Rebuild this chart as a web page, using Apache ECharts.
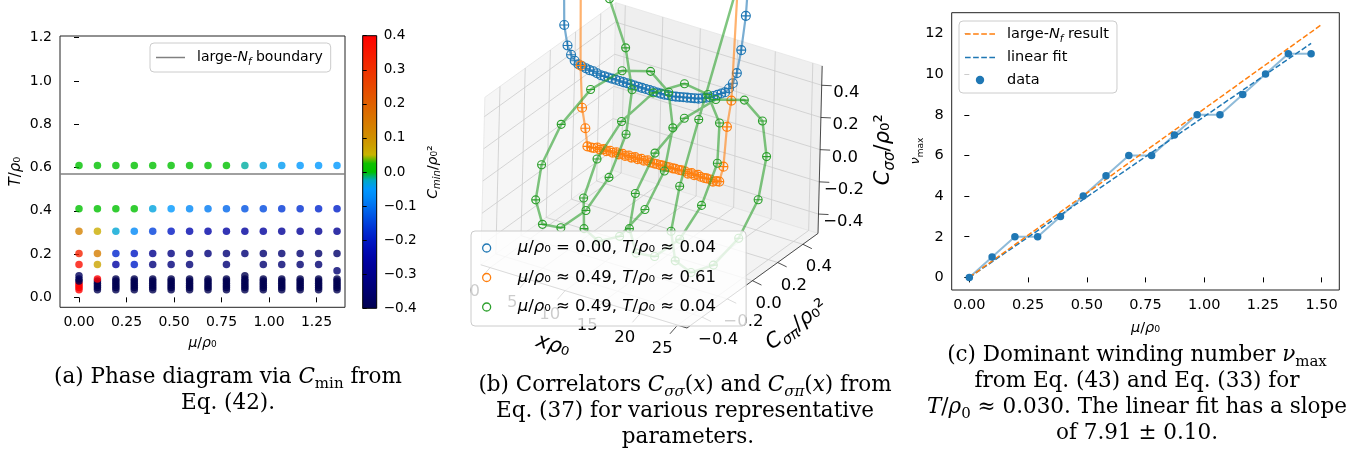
<!DOCTYPE html>
<html>
<head>
<meta charset="utf-8">
<title>Phase diagram, correlators and winding number</title>
<script src="https://cdn.jsdelivr.net/npm/echarts@6.0.0/dist/echarts.min.js"></script>
<style>
  html, body { margin: 0; padding: 0; background: #fff; }
  #chart { width: 1349px; height: 453px; }
</style>
</head>
<body>
<div id="chart"></div>
<script>
// ---------- (a) phase diagram ----------
const muGrid = [0, 0.097, 0.194, 0.291, 0.388, 0.485, 0.582, 0.679, 0.776, 0.873, 0.970, 1.067, 1.164, 1.261, 1.358]
const rowTemps = [0.61, 0.41, 0.305, 0.203, 0.152]
const cAtT061 = [0, 0, 0, 0, 0, 0, 0, 0, 0, -0.02, -0.035, -0.045, -0.05, -0.05, -0.05]
const cAtT041 = [0, 0, 0, 0, -0.035, -0.05, -0.075, -0.09, -0.11, -0.13, -0.14, -0.16, -0.17, -0.18, -0.19]
const cAtT030 = [0.13, 0.06, -0.03, -0.075, -0.15, -0.2, -0.24, -0.25, -0.26, -0.27, -0.27, -0.28, -0.28, -0.29, -0.29]
const cAtT020 = [0.33, 0.14, -0.18, -0.2, -0.3, -0.32, -0.33, -0.33, -0.34, -0.34, -0.35, -0.35, -0.35, -0.36, -0.36]
const cAtT015 = [0.37, 0.07, -0.26, -0.19, -0.33, -0.33, -0.34, null, -0.34, null, -0.35, -0.35, -0.35, -0.35, null]
const lowTemps = [0.035, 0.045, 0.055, 0.065, 0.075, 0.085]
const cLowCol0 = [0.4, 0.4, 0.4, 0.4, -0.4, -0.4]
const cLowCol1 = [-0.4, -0.4, -0.4, -0.4, -0.4, 0.4]
const cLowRest = [-0.4, -0.4, -0.4, -0.4, -0.4, -0.4]
const extraMu = [0, 0.873, 1.358]
const extraT = [0.10, 0.10, 0.123]
const extraC = [-0.38, -0.4, -0.35]
const boundaryT = 0.567
const ticksMuA = [0, 0.25, 0.5, 0.75, 1.0, 1.25]
const ticksTA = [0, 0.2, 0.4, 0.6, 0.8, 1.0, 1.2]

// ---------- (b) correlators ----------
const xPos = [0, 0.5, 1, 1.5, 2, 2.5, 3, 3.5, 4, 4.5, 5, 5.5, 6, 6.5, 7, 7.5, 8, 8.5, 9, 9.5, 10, 10.5, 11, 11.5, 12, 12.5,
  13, 13.5, 14, 14.5, 15, 15.5, 16, 16.5, 17, 17.5, 18, 18.5, 19, 19.5, 20, 20.5, 21, 21.5, 22, 22.5, 23, 23.5, 24, 24.5, 25]
const blueSS = [1.50, 0.70, 0.58, 0.53, 0.50, 0.485, 0.48, 0.475, 0.47, 0.47, 0.465,
  0.46, 0.46, 0.46, 0.46, 0.46, 0.46, 0.46, 0.46, 0.46, 0.46, 0.46, 0.46, 0.46, 0.46, 0.46, 0.46, 0.46, 0.46,
  0.465, 0.465, 0.47, 0.475, 0.48, 0.485, 0.49, 0.495, 0.50, 0.51, 0.52, 0.53, 0.545, 0.56, 0.575, 0.59, 0.62, 0.66, 0.73, 0.88, 1.10, 1.60]
const blueSP = [0, 0, 0, 0, 0, 0, 0, 0, 0, 0, 0, 0, 0, 0, 0, 0, 0, 0, 0, 0, 0, 0, 0, 0, 0, 0,
  0, 0, 0, 0, 0, 0, 0, 0, 0, 0, 0, 0, 0, 0, 0, 0, 0, 0, 0, 0, 0, 0, 0, 0, 0]
const orangeSS = [1.40, 0.37, 0.12, 0.00, -0.10, -0.10, -0.09, -0.08, -0.08, -0.07, -0.07, -0.06, -0.06, -0.05, -0.05, -0.04, -0.04,
  -0.03, -0.03, -0.02, -0.02, -0.01, -0.01, 0.00, 0.00, 0.00, 0.01, 0.01, 0.02, 0.02, 0.03, 0.03, 0.04, 0.04, 0.05, 0.05, 0.05,
  0.06, 0.06, 0.07, 0.07, 0.07, 0.08, 0.08, 0.08, 0.09, 0.10, 0.20, 0.46, 0.63, 1.40]
const orangeSP = [0.14, 0.14, 0.13, 0.13, 0.12, 0.12, 0.11, 0.11, 0.10, 0.10, 0.09, 0.09, 0.08, 0.08, 0.07, 0.07, 0.06, 0.06,
  0.05, 0.05, 0.04, 0.04, 0.03, 0.03, 0.02, 0.02, 0.01, 0.01, 0.00, 0.00, -0.01, -0.01, -0.02, -0.02, -0.03, -0.03, -0.04, -0.04,
  -0.05, -0.05, -0.06, -0.06, -0.07, -0.07, -0.08, -0.08, -0.09, -0.09, -0.10, -0.10, -0.10]
const greenSS = [1.60, 0.66, 0.30, 0.03, -0.20, -0.37, -0.45, -0.42, -0.29, -0.08, 0.14, 0.33, 0.44, 0.44, 0.33, 0.14, -0.08,
  -0.29, -0.42, -0.45, -0.36, -0.19, 0.03, 0.24, 0.39, 0.45, 0.39, 0.24, 0.03, -0.19, -0.36, -0.45, -0.42, -0.29, -0.08, 0.14,
  0.33, 0.44, 0.44, 0.33, 0.14, -0.08, -0.29, -0.42, -0.45, -0.37, -0.20, 0.03, 0.30, 0.66, 1.60]
const greenSP = [0, 0.36, 0.47, 0.50, 0.43, 0.27, 0.06, -0.17, -0.35, -0.44, -0.43, -0.31, -0.11, 0.11, 0.31, 0.43, 0.44,
  0.35, 0.17, -0.06, -0.26, -0.41, -0.45, -0.38, -0.22, 0, 0.22, 0.38, 0.45, 0.41, 0.26, 0.06, -0.17, -0.35, -0.44, -0.43,
  -0.31, -0.11, 0.11, 0.31, 0.43, 0.44, 0.35, 0.17, -0.06, -0.27, -0.43, -0.50, -0.47, -0.36, 0]
const xTicks3d = [0, 5, 10, 15, 20, 25]
const sTicks3d = [-0.4, -0.2, 0, 0.2, 0.4]
const cTicks3d = [-0.4, -0.2, 0, 0.2, 0.4]
const boxX = [-1.25, 26.25]
const boxS = [-0.52, 0.52]
const boxC = [-0.52, 0.52]

// ---------- (c) winding number ----------
const muC = [0, 0.097, 0.194, 0.291, 0.388, 0.485, 0.582, 0.679, 0.776, 0.873, 0.970, 1.067, 1.164, 1.261, 1.358, 1.455]
const nuMax = [0, 1, 2, 2, 3, 4, 5, 6, 6, 7, 8, 8, 9, 10, 11, 11]
const largeNMu = [0, 1.5]
const largeNNu = [0, 12.44]
const fitMu = [0, 1.455]
const fitNu = [0, 11.51]
const ticksMuC = [0, 0.25, 0.5, 0.75, 1.0, 1.25, 1.5]
const ticksNuC = [0, 2, 4, 6, 8, 10, 12]

// ---------- styles ----------
const SANS = 'DejaVu Sans'
const SERIF = 'DejaVu Serif'
const BLUE = '#1f77b4', ORANGE = '#ff7f0e', GREEN = '#2ca02c'
const cmapColors = ['#000050', '#000060', '#000070', '#00007e', '#00008c', '#00009a', '#0004a8', '#000cb6', '#0018c4',
  '#002ad0', '#0040dc', '#0058e6', '#0070f0', '#0088f8', '#0098ff', '#00a8c8', '#00c000', '#10c000', '#c8b400',
  '#cca000', '#d09000', '#d48400', '#d87800', '#dc6c00', '#e06000', '#e45400', '#e84800', '#ec3c00', '#f03000',
  '#f42400', '#f81800', '#fc0c00', '#ff0000']
const OPEN_CIRCLE = 'path://M0,0M20,20M2,10A8,8,0,1,1,18,10A8,8,0,1,1,2,10Z'
const DOT = 'path://M0,0M20,20M4,10A6,6,0,1,1,16,10A6,6,0,1,1,4,10Z'
const SOLID_LINE = 'path://M0,0H29V1.5H0Z'
const DASH_LINE = 'path://M0,0H5.5V1.5H0ZM7.9,0H13.4V1.5H7.9ZM15.8,0H21.3V1.5H15.8ZM23.7,0H29.2V1.5H23.7Z'
const CIRCLE_PLUS = 'path://M1,10A9,9,0,1,1,19,10A9,9,0,1,1,1,10ZM1,10L19,10M10,1L10,19'
const CIRCLE_MINUS = 'path://M1,10A9,9,0,1,1,19,10A9,9,0,1,1,1,10ZM1,10L19,10'

function mathRich(size, family) {
  const L = Math.round(size * 1.35)
  const small = Math.round(size * 0.7)
  const base = { fontSize: size, fontFamily: family, color: '#000', lineHeight: L }
  return {
    i: Object.assign({}, base, { fontStyle: 'italic' }),
    sub: { fontSize: small, fontFamily: family, color: '#000', lineHeight: small, verticalAlign: 'bottom' },
    subi: { fontSize: small, fontFamily: family, fontStyle: 'italic', color: '#000', lineHeight: small, verticalAlign: 'bottom' },
    sup: { fontSize: small, fontFamily: family, color: '#000', lineHeight: small, verticalAlign: 'top' }
  }
}
const fmt1 = v => (v < 0 ? '\u2212' : '') + Math.abs(v).toFixed(1)

// simple fixed view of the 3d box, maps (x, C_sigma_pi, C_sigma_sigma) onto the panel plane
function project(x, s, c) {
  return [557.7 + 7.5 * x + 126 * s + 4 * c, 136.6 + 2.3 * x - 91 * s - 161 * c]
}

// ---------- series data ----------
const phaseData = []
;[cAtT061, cAtT041, cAtT030, cAtT020, cAtT015].forEach((row, r) => {
  row.forEach((c, i) => { if (c !== null) phaseData.push([muGrid[i], rowTemps[r], c]) })
})
muGrid.forEach((mu, i) => {
  const col = i === 0 ? cLowCol0 : (i === 1 ? cLowCol1 : cLowRest)
  lowTemps.forEach((t, j) => phaseData.push([mu, t, col[j]]))
})
extraMu.forEach((mu, i) => phaseData.push([mu, extraT[i], extraC[i]]))

const curve = (ss, sp) => xPos.map((x, k) => project(x, sp[k], ss[k]))
const zip = (a, b) => a.map((v, i) => [v, b[i]])

const NAME_BLUE = 'mu0.00_T0.04'
const NAME_ORANGE = 'mu0.49_T0.61'
const NAME_GREEN = 'mu0.49_T0.04'
const legendLabels = {
  [NAME_BLUE]: '{i|μ}/{i|ρ}₀ = 0.00, {i|T}/{i|ρ}₀ ≈ 0.04',
  [NAME_ORANGE]: '{i|μ}/{i|ρ}₀ ≈ 0.49, {i|T}/{i|ρ}₀ ≈ 0.61',
  [NAME_GREEN]: '{i|μ}/{i|ρ}₀ ≈ 0.49, {i|T}/{i|ρ}₀ ≈ 0.04',
  'boundary': 'large-{i|N}{subi|f} boundary',
  'large-N': 'large-{i|N}{subi|f} result',
  'linear fit': 'linear fit',
  'data': 'data'
}

const rich21 = mathRich(21, SANS)

function renderBox(params, api) {
  const P = (x, s, c) => api.coord(project(x, s, c))
  const X0 = boxX[0], X1 = boxX[1], S0 = boxS[0], S1 = boxS[1], C0 = boxC[0], C1 = boxC[1]
  const kids = []
  const poly = (pts, fill) => kids.push({ type: 'polygon', shape: { points: pts }, style: { fill: fill, stroke: '#e4e4e4', lineWidth: 0.8 } })
  const seg = (a, b, stroke, w) => kids.push({ type: 'line', shape: { x1: a[0], y1: a[1], x2: b[0], y2: b[1] }, style: { stroke: stroke, lineWidth: w } })
  const label = (p, text, size, rot, rich) => kids.push({
    type: 'text', x: p[0], y: p[1], rotation: rot || 0,
    style: { text: text, fill: '#000', fontSize: size, fontFamily: SANS, lineHeight: Math.round(size * 1.35),
      align: 'center', verticalAlign: 'middle', textAlign: 'center', textVerticalAlign: 'middle', rich: rich }
  })
  poly([P(X0, S0, C0), P(X0, S1, C0), P(X0, S1, C1), P(X0, S0, C1)], '#f6f6f6')
  poly([P(X0, S1, C0), P(X1, S1, C0), P(X1, S1, C1), P(X0, S1, C1)], '#efefef')
  poly([P(X0, S0, C0), P(X1, S0, C0), P(X1, S1, C0), P(X0, S1, C0)], '#f3f3f3')
  const g = '#cbcbcb'
  cTicks3d.forEach(c => { seg(P(X0, S0, c), P(X0, S1, c), g, 0.8); seg(P(X0, S1, c), P(X1, S1, c), g, 0.8) })
  sTicks3d.forEach(s => { seg(P(X0, s, C0), P(X0, s, C1), g, 0.8); seg(P(X0, s, C0), P(X1, s, C0), g, 0.8) })
  xTicks3d.forEach(x => { seg(P(x, S1, C0), P(x, S1, C1), g, 0.8); seg(P(x, S0, C0), P(x, S1, C0), g, 0.8) })
  seg(P(X0, S0, C0), P(X1, S0, C0), '#222', 0.8)
  seg(P(X1, S0, C0), P(X1, S1, C0), '#222', 0.8)
  seg(P(X1, S1, C0), P(X1, S1, C1), '#222', 0.8)
  xTicks3d.forEach(x => { seg(P(x, S0, C0), P(x, S0 - 0.06, C0 - 0.02), '#222', 0.8); label(P(x, -0.64, -0.60), String(x), 16.5) })
  sTicks3d.forEach(s => { seg(P(X1, s, C0), P(X1 + 1.2, s, C0 - 0.01), '#222', 0.8); label(P(X1 + 2.2, s, -0.63), fmt1(s), 16.5) })
  cTicks3d.forEach(c => { seg(P(X1, S1, c), P(X1 + 1, S1 + 0.02, c), '#222', 0.8); label(P(X1 + 3.3, S1, c), fmt1(c), 16.5) })
  label(P(12.5, -0.76, -0.69), '{i|x}{i|ρ}₀', 21, -17 * Math.PI / 180, rich21)
  label(P(X1 + 6, 0, -0.71), '{i|C}{subi|σπ}/{i|ρ}₀²', 21, 36 * Math.PI / 180, rich21)
  label(P(X1 + 5.9, S1 + 0.149, 0), '{i|C}{subi|σσ}/{i|ρ}₀²', 21, Math.PI / 2, rich21)
  return { type: 'group', children: kids }
}

const curveSeries = (name, ss, sp, color, symbol, size, width, z) => ({
  type: 'line', name: name, xAxisIndex: 2, yAxisIndex: 2, data: curve(ss, sp), z: z,
  symbol: symbol, symbolSize: size, showSymbol: true, clip: false, silent: true,
  lineStyle: { color: color, width: width, opacity: 0.6 },
  itemStyle: { color: 'rgba(0,0,0,0)', borderColor: color, borderWidth: 1.1 }
})

const richCap = mathRich(21.5, SERIF)
const caption = (x, y, text) => ({
  type: 'text', x: x, y: y,
  style: { text: text, rich: richCap, fill: '#000', fontSize: 21.5, fontFamily: SERIF, lineHeight: Math.round(21.5 * 1.35),
    align: 'center', verticalAlign: 'middle', textAlign: 'center', textVerticalAlign: 'middle' }
})

const axisFont = { color: '#000', fontSize: 14, fontFamily: SANS }
const tickStyle = { show: true, inside: false, length: 5, lineStyle: { color: '#000', width: 1 } }

const option = {
  animation: false,
  backgroundColor: '#fff',
  textStyle: { fontFamily: SANS },
  grid: [
    { left: 60, top: 36, width: 285, height: 271.3, show: true, borderColor: '#222', borderWidth: 1, backgroundColor: 'rgba(0,0,0,0)', outerBoundsMode: 'none' },
    { left: 362.7, top: 35.7, width: 14, height: 272.6, show: true, borderColor: '#000', borderWidth: 1, outerBoundsMode: 'none',
      backgroundColor: { type: 'linear', x: 0, y: 0, x2: 0, y2: 1,
        colorStops: cmapColors.map((c, i) => ({ offset: i / (cmapColors.length - 1), color: cmapColors[cmapColors.length - 1 - i] })) } },
    { left: 460, top: 0, width: 440, height: 360, outerBoundsMode: 'none' },
    { left: 951.7, top: 12.7, width: 387.6, height: 277.3, show: true, borderColor: '#222', borderWidth: 1, backgroundColor: 'rgba(0,0,0,0)', outerBoundsMode: 'none' }
  ],
  xAxis: [
    { gridIndex: 0, type: 'value', min: -0.1, max: 1.4, splitLine: { show: false }, axisLine: { show: false },
      axisTick: Object.assign({ customValues: ticksMuA }, tickStyle),
      axisLabel: Object.assign({ customValues: ticksMuA, formatter: v => v.toFixed(2), margin: 8 }, axisFont),
      name: '{i|μ}/{i|ρ}₀', nameLocation: 'middle', nameGap: 21,
      nameTextStyle: Object.assign({ lineHeight: 19, rich: mathRich(14, SANS) }, axisFont) },
    { gridIndex: 1, type: 'value', min: 0, max: 1, show: false },
    { gridIndex: 2, type: 'value', min: 460, max: 900, show: false },
    { gridIndex: 3, type: 'value', min: -0.075, max: 1.575, splitLine: { show: false }, axisLine: { show: false },
      axisTick: Object.assign({ customValues: ticksMuC }, tickStyle),
      axisLabel: Object.assign({ customValues: ticksMuC, formatter: v => v.toFixed(2), margin: 8 }, axisFont, { fontSize: 14.5 }),
      name: '{i|μ}/{i|ρ}₀', nameLocation: 'middle', nameGap: 22,
      nameTextStyle: Object.assign({ lineHeight: 19, rich: mathRich(14.5, SANS) }, axisFont, { fontSize: 14.5 }) }
  ],
  yAxis: [
    { gridIndex: 0, type: 'value', min: -0.046, max: 1.208, splitLine: { show: false }, axisLine: { show: false },
      axisTick: Object.assign({ customValues: ticksTA }, tickStyle),
      axisLabel: Object.assign({ customValues: ticksTA, formatter: v => v.toFixed(1), margin: 8 }, axisFont),
      name: '{i|T}/{i|ρ}₀', nameLocation: 'middle', nameRotate: 90, nameGap: 32,
      nameTextStyle: Object.assign({ lineHeight: 20, rich: mathRich(15, SANS) }, axisFont, { fontSize: 15 }) },
    { gridIndex: 1, type: 'value', position: 'right', min: -0.4, max: 0.4, interval: 0.1, splitLine: { show: false },
      axisLine: { show: false }, axisTick: { show: true, inside: false, length: 4, lineStyle: { color: '#000', width: 1 } },
      axisLabel: Object.assign({ formatter: fmt1, margin: 7 }, axisFont, { fontSize: 13.6 }),
      name: '{i|C}{subi|min}/{i|ρ}₀²', nameLocation: 'middle', nameRotate: 90, nameGap: 47,
      nameTextStyle: Object.assign({ lineHeight: 19, rich: mathRich(14, SANS) }, axisFont) },
    { gridIndex: 2, type: 'value', min: 0, max: 360, inverse: true, show: false },
    { gridIndex: 3, type: 'value', min: -0.62, max: 13.02, splitLine: { show: false }, axisLine: { show: false },
      axisTick: Object.assign({ customValues: ticksNuC }, tickStyle),
      axisLabel: Object.assign({ customValues: ticksNuC, margin: 8 }, axisFont, { fontSize: 14.5 }) }
  ],
  visualMap: {
    type: 'continuous', show: false, seriesIndex: 0, dimension: 2, min: -0.4, max: 0.4,
    inRange: { color: cmapColors }
  },
  legend: [
    { left: 150, top: 43, orient: 'vertical', selectedMode: false, z: 10,
      data: [{ name: 'boundary', icon: SOLID_LINE, itemStyle: { color: '#808080' } }], itemWidth: 29, itemHeight: 14,
      padding: [5, 8, 5, 6], backgroundColor: 'rgba(255,255,255,0.8)', borderColor: '#cccccc', borderWidth: 1, borderRadius: 4,
      textStyle: Object.assign({ lineHeight: 18, padding: [0, 0, 0, 7], rich: mathRich(14, SANS) }, axisFont),
      formatter: n => legendLabels[n] },
    { left: 471, top: 231, orient: 'vertical', selectedMode: false, z: 10,
      data: [
        { name: NAME_BLUE, icon: OPEN_CIRCLE, itemStyle: { color: 'rgba(0,0,0,0)', borderColor: BLUE, borderWidth: 1.3 } },
        { name: NAME_ORANGE, icon: OPEN_CIRCLE, itemStyle: { color: 'rgba(0,0,0,0)', borderColor: ORANGE, borderWidth: 1.3 } },
        { name: NAME_GREEN, icon: OPEN_CIRCLE, itemStyle: { color: 'rgba(0,0,0,0)', borderColor: GREEN, borderWidth: 1.3 } }
      ],
      itemWidth: 30, itemHeight: 10, itemGap: 7.5,
      padding: [6, 30, 8, 10], backgroundColor: 'rgba(255,255,255,0.8)', borderColor: '#cccccc', borderWidth: 1, borderRadius: 4,
      textStyle: { color: '#000', fontSize: 16.5, fontFamily: SANS, lineHeight: 20, padding: [0, 0, 0, 11], rich: mathRich(16.5, SANS) },
      formatter: n => legendLabels[n] },
    { left: 959, top: 21, orient: 'vertical', selectedMode: false, z: 10,
      data: [
        { name: 'large-N', icon: DASH_LINE, itemStyle: { color: ORANGE } },
        { name: 'linear fit', icon: DASH_LINE, itemStyle: { color: BLUE } },
        { name: 'data', icon: DOT, itemStyle: { color: BLUE } }
      ],
      itemWidth: 30, itemHeight: 14, itemGap: 4.5,
      padding: [3, 8, 4, 6], backgroundColor: 'rgba(255,255,255,0.8)', borderColor: '#cccccc', borderWidth: 1, borderRadius: 4,
      textStyle: Object.assign({ lineHeight: 18, padding: [0, 0, 0, 7], rich: mathRich(14.5, SANS) }, axisFont, { fontSize: 14.5 }),
      formatter: n => legendLabels[n] }
  ],
  series: [
    { type: 'scatter', name: 'phase', xAxisIndex: 0, yAxisIndex: 0, data: phaseData, symbolSize: 7.5, silent: true, z: 3 },
    { type: 'line', name: 'boundary', xAxisIndex: 0, yAxisIndex: 0, data: [], symbol: 'none', z: 2,
      lineStyle: { color: '#808080', width: 1.5 }, itemStyle: { color: '#808080' },
      markLine: { silent: true, symbol: 'none', label: { show: false }, lineStyle: { color: '#808080', width: 1.5, type: 'solid' },
        data: [{ yAxis: boundaryT }] } },
    { type: 'custom', name: 'box', xAxisIndex: 2, yAxisIndex: 2, data: [[600, 100]], renderItem: renderBox, silent: true, z: 1 },
    curveSeries(NAME_BLUE, blueSS, blueSP, BLUE, CIRCLE_PLUS, 9, 2.2, 2),
    curveSeries(NAME_ORANGE, orangeSS, orangeSP, ORANGE, CIRCLE_PLUS, 9, 2.2, 3),
    curveSeries(NAME_GREEN, greenSS, greenSP, GREEN, CIRCLE_MINUS, 8, 2.5, 4),
    { type: 'line', name: 'dataLine', xAxisIndex: 3, yAxisIndex: 3, data: zip(muC, nuMax), symbol: 'none', silent: true, z: 2,
      lineStyle: { color: BLUE, width: 2, opacity: 0.5 } },
    { type: 'line', name: 'linear fit', xAxisIndex: 3, yAxisIndex: 3, data: zip(fitMu, fitNu), symbol: 'none', silent: true, z: 3,
      lineStyle: { color: BLUE, width: 1.5, type: [5.5, 2.4] }, itemStyle: { color: BLUE } },
    { type: 'line', name: 'large-N', xAxisIndex: 3, yAxisIndex: 3, data: zip(largeNMu, largeNNu), symbol: 'none', silent: true, z: 4,
      lineStyle: { color: ORANGE, width: 1.5, type: [5.5, 2.4] }, itemStyle: { color: ORANGE } },
    { type: 'scatter', name: 'data', xAxisIndex: 3, yAxisIndex: 3, data: zip(muC, nuMax), symbolSize: 7.5, silent: true, z: 5,
      itemStyle: { color: BLUE, opacity: 1 } }
  ],
  graphic: [
    { type: 'text', x: 916, y: 151, rotation: Math.PI / 2,
      style: { text: '{i|ν}{sub|max}', rich: mathRich(13, SANS), fill: '#000', fontSize: 13, fontFamily: SANS, lineHeight: 18,
        align: 'center', verticalAlign: 'middle', textAlign: 'center', textVerticalAlign: 'middle' } },
    caption(228, 377, '(a) Phase diagram via {i|C}{sub|min} from'),
    caption(228, 403, 'Eq. (42).'),
    caption(685, 385, '(b) Correlators {i|C}{subi|σσ}({i|x}) and {i|C}{subi|σπ}({i|x}) from'),
    caption(685, 411, 'Eq. (37) for various representative'),
    caption(688, 437, 'parameters.'),
    caption(1137, 355, '(c) Dominant winding number {i|ν}{sub|max}'),
    caption(1137, 381, 'from Eq. (43) and Eq. (33) for'),
    caption(1137, 407, '{i|T}/{i|ρ}{sub|0} ≈ 0.030. The linear fit has a slope'),
    caption(1137, 433, 'of 7.91 ± 0.10.')
  ]
}

const chart = echarts.init(document.getElementById('chart'))
chart.setOption(option)
</script>
</body>
</html>
